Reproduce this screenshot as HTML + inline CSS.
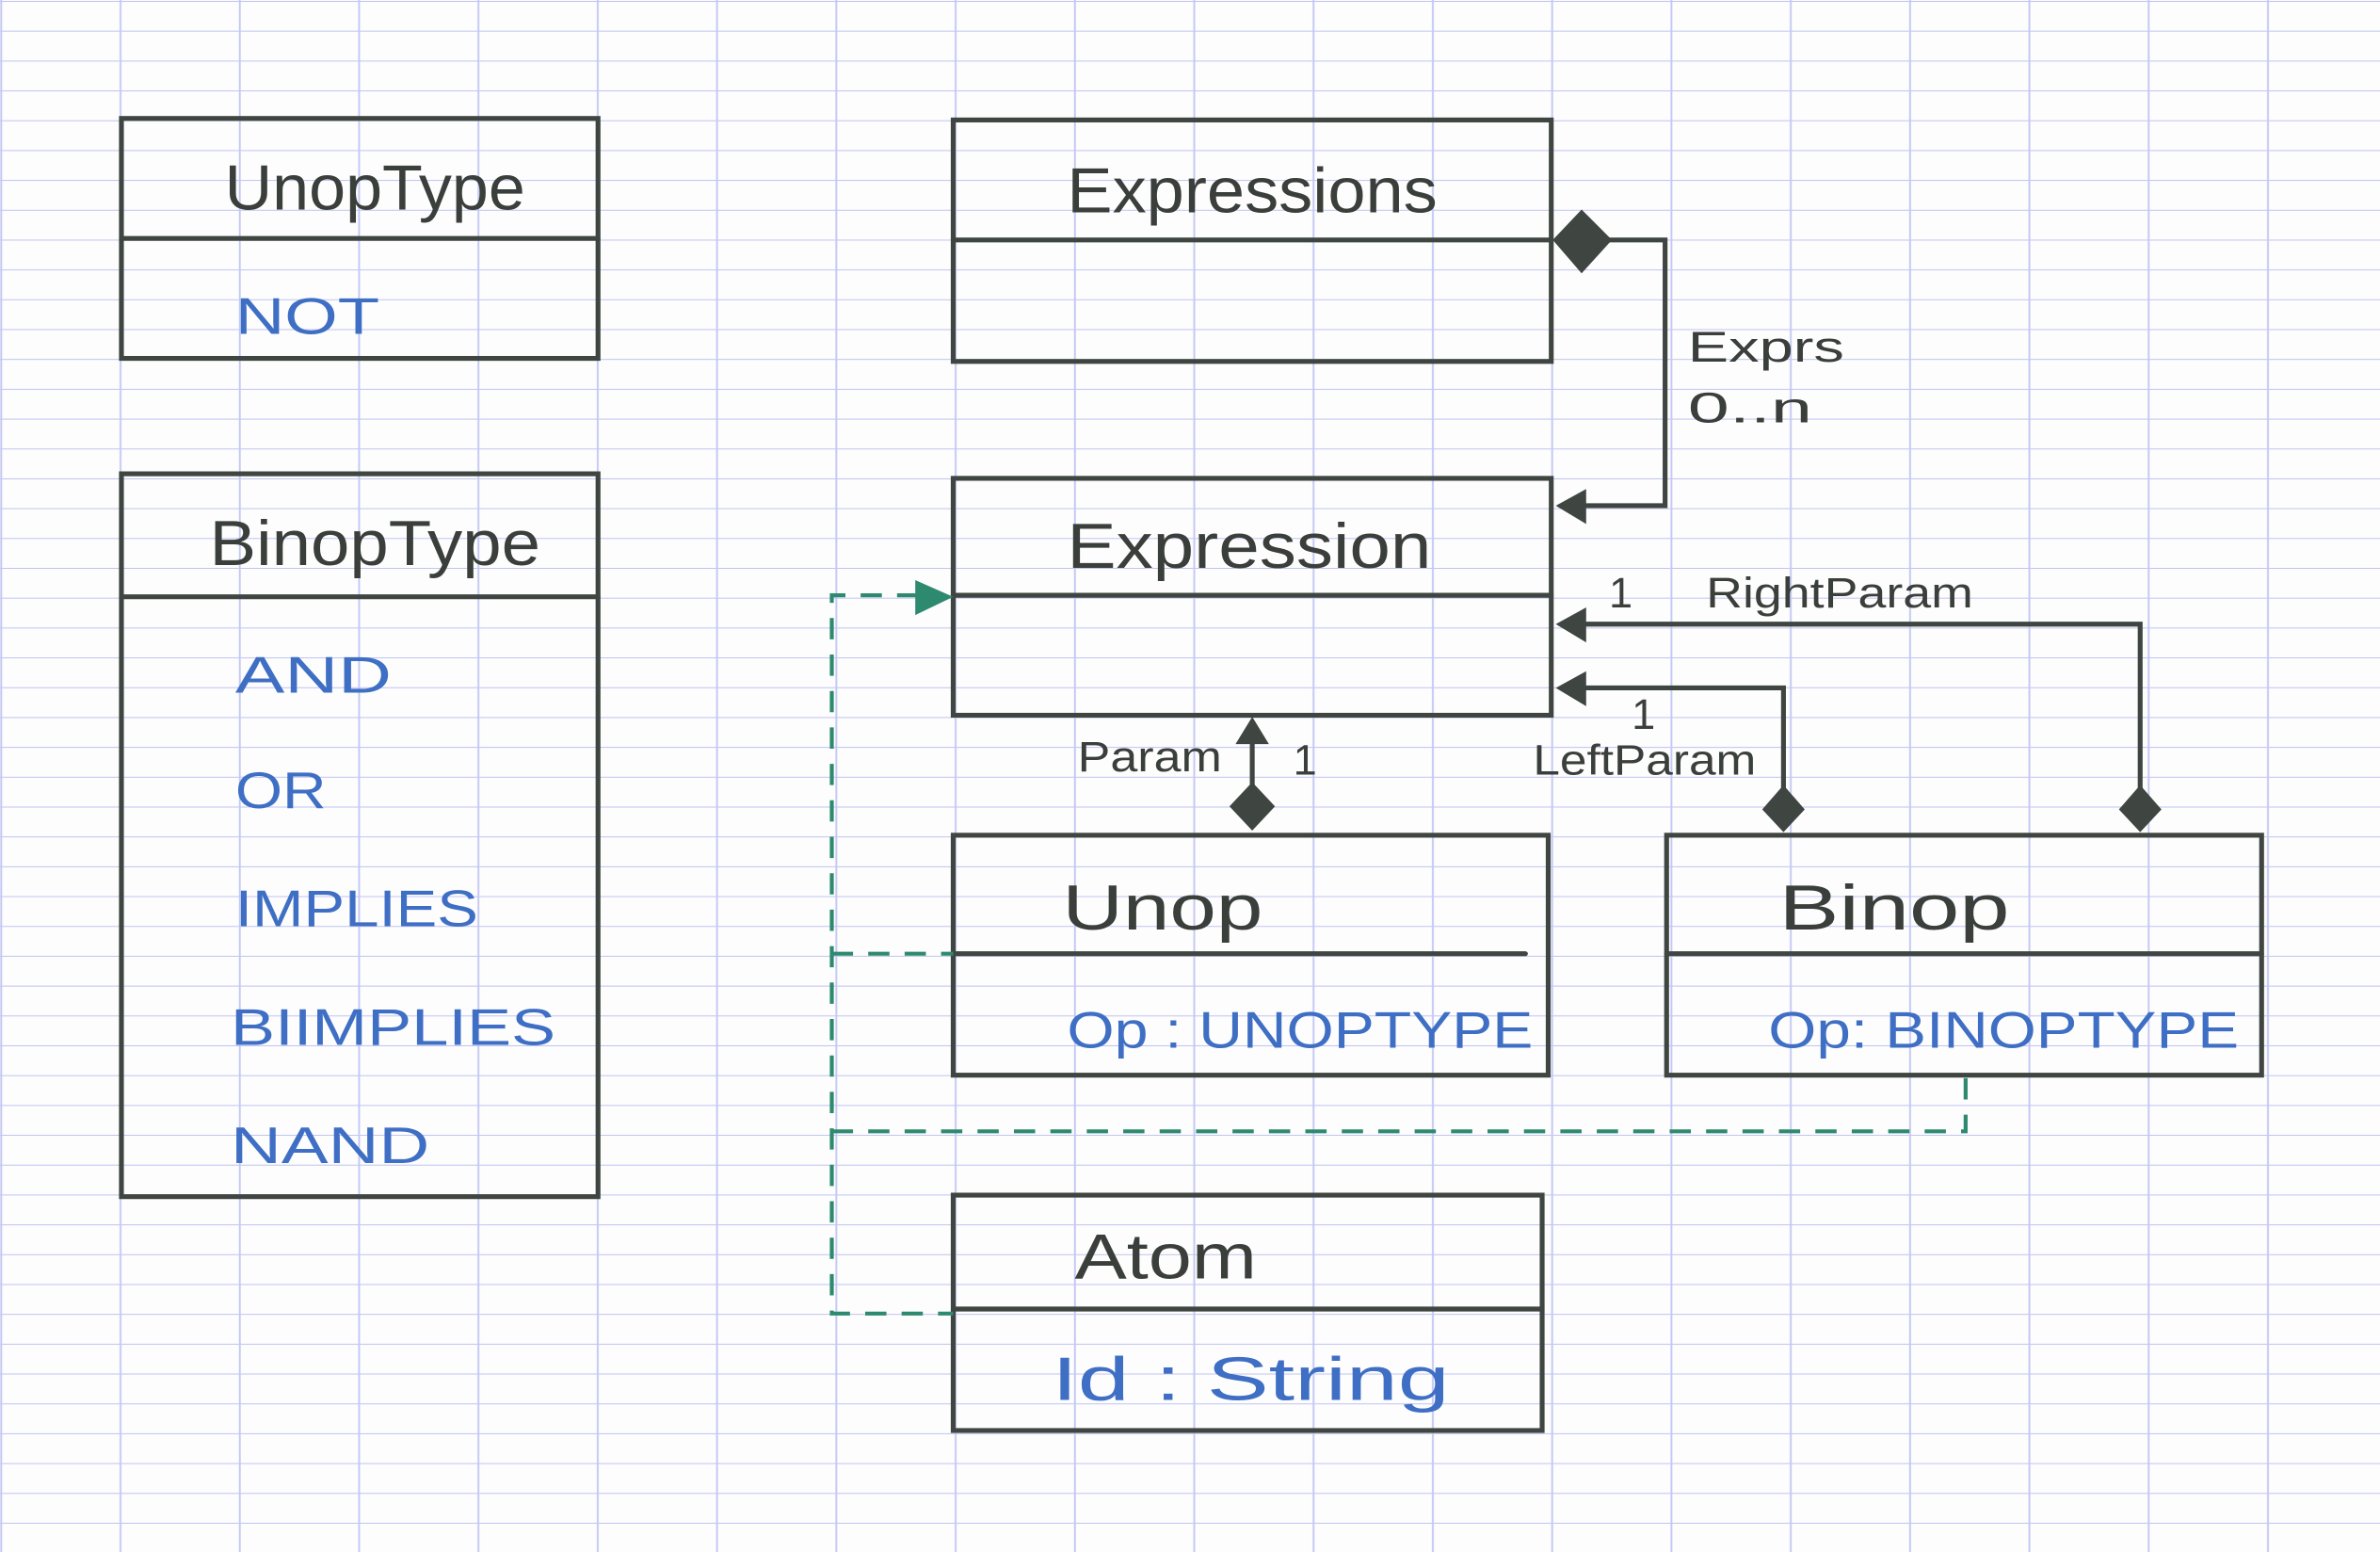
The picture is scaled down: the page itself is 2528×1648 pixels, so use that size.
<!DOCTYPE html>
<html><head><meta charset="utf-8"><style>
html,body{margin:0;padding:0;background:#fdfdfd;}
svg{display:block}
text{font-family:"Liberation Sans",sans-serif;}
</style></head><body>
<svg width="2528" height="1648" viewBox="0 0 1568 1022" preserveAspectRatio="none" xmlns="http://www.w3.org/2000/svg">
<defs>
<pattern id="g" x="0" y="0.6" width="78.6" height="19.65" patternUnits="userSpaceOnUse">
<line x1="0" y1="0" x2="78.6" y2="0" stroke="#bfc3f2" stroke-width="1.2"/>
<line x1="0.8" y1="0" x2="0.8" y2="19.65" stroke="#c4c8f4" stroke-width="1.2"/>
</pattern>
</defs>
<rect width="1568" height="1022" fill="#fdfdfd"/>
<rect width="1568" height="1022" fill="url(#g)"/>
<g fill="none" stroke="#3f4540" stroke-width="3.2" stroke-linecap="round">
<rect x="80" y="78" width="314" height="158"/><line x1="80" y1="157" x2="394" y2="157"/>
<rect x="80" y="312" width="314" height="476"/><line x1="80" y1="393" x2="394" y2="393"/>
<rect x="628" y="79" width="394" height="159"/><line x1="628" y1="158" x2="1022" y2="158"/>
<rect x="628" y="315" width="394" height="156"/><line x1="628" y1="392" x2="1022" y2="392"/>
<rect x="628" y="550" width="392" height="158"/><line x1="628" y1="628" x2="1005" y2="628"/>
<rect x="1098" y="550" width="392" height="158"/><line x1="1098" y1="628" x2="1490" y2="628"/>
<rect x="628" y="787" width="388" height="155"/><line x1="628" y1="862" x2="1016" y2="862"/>
<polyline points="1055,158 1097,158 1097,333 1035,333"/>
<polyline points="1410,520 1410,411 1035,411"/>
<polyline points="1175,520 1175,453 1035,453"/>
<line x1="825" y1="520" x2="825" y2="485"/>
</g>
<g fill="#3f4540">
<polygon points="1023,158 1042,138 1062,158 1042,180"/>
<polygon points="1025,333 1045,322 1045,345"/>
<polygon points="1025,411 1045,400 1045,423"/>
<polygon points="1025,453 1045,442 1045,465"/>
<polygon points="1410,517 1424,533 1410,548 1396,533"/>
<polygon points="1175,517 1189,533 1175,548 1161,533"/>
<polygon points="825,515 840,531 825,547 810,531"/>
<polygon points="825,472 836,490 814,490"/>
</g>
<g fill="none" stroke="#2e8a6e" stroke-width="2.6" stroke-dasharray="14,10">
<polyline points="605,392 548,392 548,865 628,865"/>
<line x1="548" y1="628" x2="628" y2="628"/>
<polyline points="1295,710 1295,745 548,745"/>
</g>
<polygon points="628,393 603,382 603,405" fill="#2e8a6e"/>
<g fill="#3a3f3b" font-size="42" lengthAdjust="spacingAndGlyphs">
<text x="148" y="138" textLength="198" lengthAdjust="spacingAndGlyphs">UnopType</text>
<text x="138" y="372" textLength="218" lengthAdjust="spacingAndGlyphs">BinopType</text>
<text x="703" y="140" textLength="244" lengthAdjust="spacingAndGlyphs">Expressions</text>
<text x="703" y="374" textLength="240" lengthAdjust="spacingAndGlyphs">Expression</text>
<text x="700" y="612" textLength="132" lengthAdjust="spacingAndGlyphs">Unop</text>
<text x="1172" y="612" textLength="152" lengthAdjust="spacingAndGlyphs">Binop</text>
<text x="708" y="842" textLength="120" lengthAdjust="spacingAndGlyphs">Atom</text>
</g>
<g fill="#3a3f3b" font-size="28">
<text x="1112" y="238" textLength="103" lengthAdjust="spacingAndGlyphs">Exprs</text>
<text x="1112" y="278" textLength="82" lengthAdjust="spacingAndGlyphs">0..n</text>
<text x="1124" y="400" textLength="176" lengthAdjust="spacingAndGlyphs">RightParam</text>
<text x="1060" y="400">1</text>
<text x="1075" y="480">1</text>
<text x="1010" y="510" textLength="147" lengthAdjust="spacingAndGlyphs">LeftParam</text>
<text x="710" y="508" textLength="95" lengthAdjust="spacingAndGlyphs">Param</text>
<text x="852" y="510">1</text>
</g>
<g fill="#3f6fc4" font-size="34">
<text x="155" y="220" textLength="95" lengthAdjust="spacingAndGlyphs">NOT</text>
<text x="155" y="456" textLength="103" lengthAdjust="spacingAndGlyphs">AND</text>
<text x="155" y="532" textLength="60" lengthAdjust="spacingAndGlyphs">OR</text>
<text x="155" y="610" textLength="160" lengthAdjust="spacingAndGlyphs">IMPLIES</text>
<text x="152" y="688" textLength="214" lengthAdjust="spacingAndGlyphs">BIIMPLIES</text>
<text x="152" y="766" textLength="131" lengthAdjust="spacingAndGlyphs">NAND</text>
<text x="703" y="690" textLength="307" lengthAdjust="spacingAndGlyphs">Op : UNOPTYPE</text>
<text x="1165" y="690" textLength="310" lengthAdjust="spacingAndGlyphs">Op: BINOPTYPE</text>
<text x="693" y="922" font-size="40" textLength="262" lengthAdjust="spacingAndGlyphs">Id : String</text>
</g>
</svg>
</body></html>
